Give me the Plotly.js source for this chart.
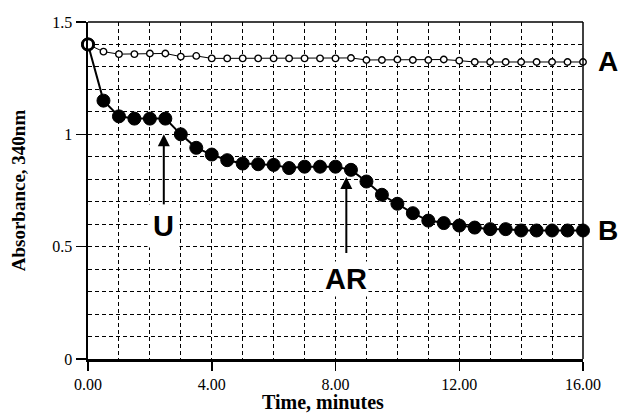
<!DOCTYPE html>
<html><head><meta charset="utf-8">
<script src="https://cdn.plot.ly/plotly-3.0.1.min.js"></script>
<style>html,body{margin:0;padding:0;background:#fff}</style>
</head><body>
<div id="chart" style="width:619px;height:418px"></div>
<script>
// ---- data ----
const timeMin = [0,0.5,1,1.5,2,2.5,3,3.5,4,4.5,5,5.5,6,6.5,7,7.5,8,8.5,9,9.5,10,10.5,11,11.5,12,12.5,13,13.5,14,14.5,15,15.5,16];
const seriesA = [1.40,1.368,1.357,1.357,1.36,1.36,1.346,1.349,1.338,1.338,1.338,1.338,1.338,1.338,1.338,1.338,1.338,1.34,1.331,1.331,1.333,1.331,1.331,1.333,1.328,1.322,1.322,1.322,1.322,1.322,1.322,1.322,1.322];
const seriesB = [1.40,1.15,1.08,1.07,1.07,1.07,1.00,0.94,0.91,0.885,0.87,0.867,0.864,0.85,0.856,0.856,0.856,0.842,0.79,0.731,0.691,0.649,0.616,0.605,0.594,0.585,0.578,0.578,0.572,0.572,0.572,0.572,0.572];
const xTickVals = [0,4,8,12,16];
const xTickText = ['0.00','4.00','8.00','12.00','16.00'];
const yTickVals = [0,0.5,1,1.5];
const yTickText = ['0','0.5','1','1.5'];
const seriesLabels = ['A','B'];
const arrowLabels = ['U','AR'];
const arrowTimes = [2.45, 8.35];
const arrowTips = [1.0, 0.81];
const arrowTails = [0.68, 0.465];
const arrowLabelY = [0.594, 0.358];
const xTitle = 'Time, minutes';
const yTitle = 'Absorbance, 340nm';

// ---- styling ----
const gridDash = '4px,3px';
const first = (a, b) => timeMin.map((t, i) => i === 0 ? a : b);

const traceB = {
  x: timeMin, y: seriesB, type: 'scatter', mode: 'lines+markers', cliponaxis: false,
  line: {color: '#000000', width: 2},
  marker: {symbol: 'circle', size: 13, color: '#000000', opacity: 1,
           line: {color: '#000000', width: 1}},
  hoverinfo: 'skip'
};
const traceA = {
  x: timeMin, y: seriesA, type: 'scatter', mode: 'lines+markers', cliponaxis: false,
  line: {color: '#000000', width: 1},
  marker: {symbol: 'circle', size: first(11, 6.5), color: '#ffffff', opacity: 1,
           line: {color: '#000000', width: first(2.8, 1.4)}},
  hoverinfo: 'skip'
};

const serif = 'Liberation Serif, Times New Roman, serif';
const sans = 'Liberation Sans, Arial, sans-serif';

const annotations = [];
arrowLabels.forEach((lab, i) => {
  annotations.push({
    x: arrowTimes[i], y: arrowTips[i], ax: arrowTimes[i], ay: arrowTails[i],
    xref: 'x', yref: 'y', axref: 'x', ayref: 'y', text: '',
    showarrow: true, arrowhead: 2, arrowsize: 1.2, arrowwidth: 2, arrowcolor: 'black'
  });
  annotations.push({
    x: arrowTimes[i], y: arrowLabelY[i], xref: 'x', yref: 'y', text: '<b>' + lab + '</b>',
    showarrow: false, bgcolor: 'white', borderpad: lab === 'U' ? 5 : 1,
    font: {family: sans, size: 29, color: 'black'}
  });
});
[seriesA, seriesB].forEach((s, i) => {
  annotations.push({
    x: 1.05, xref: 'paper', y: s[s.length - 1], yref: 'y', text: '<b>' + seriesLabels[i] + '</b>',
    showarrow: false, xanchor: 'center',
    font: {family: sans, size: 28, color: 'black'}
  });
});
annotations.push({
  x: 0.475, xref: 'paper', y: -0.128, yref: 'paper', xanchor: 'center', yanchor: 'middle',
  text: '<b>' + xTitle + '</b>', showarrow: false,
  font: {family: serif, size: 20, color: 'black'}
});

const layout = {
  width: 619, height: 418,
  margin: {l: 88, r: 36, t: 22, b: 59},
  paper_bgcolor: 'white', plot_bgcolor: 'white',
  showlegend: false,
  xaxis: {
    range: [0, 16], tickvals: xTickVals, ticktext: xTickText,
    ticks: 'outside', ticklen: 9, tickwidth: 1.5, tickcolor: 'black',
    showline: true, linewidth: 2.5, linecolor: 'black', zeroline: false,
    showgrid: true, gridcolor: 'black', gridwidth: 1, griddash: gridDash,
    minor: {dtick: 1, tick0: 0, showgrid: true, gridcolor: 'black', gridwidth: 1, griddash: gridDash},
    tickfont: {family: serif, size: 16, color: 'black'}
  },
  yaxis: {
    range: [0, 1.5], tickvals: yTickVals, ticktext: yTickText,
    ticks: 'outside', ticklen: 10, tickwidth: 1.5, tickcolor: 'black',
    showline: true, linewidth: 2.5, linecolor: 'black', zeroline: false,
    showgrid: true, gridcolor: 'black', gridwidth: 1, griddash: gridDash,
    minor: {dtick: 0.1, tick0: 0, showgrid: true, gridcolor: 'black', gridwidth: 1, griddash: gridDash},
    tickfont: {family: serif, size: 16, color: 'black'},
    title: {text: '<b>' + yTitle + '</b>', font: {family: serif, size: 19, color: 'black'}, standoff: 22}
  },
  shapes: [
    {type: 'line', xref: 'paper', yref: 'paper', x0: 0, x1: 1, y0: 1, y1: 1, line: {color: 'black', width: 1.5}},
    {type: 'line', xref: 'paper', yref: 'paper', x0: 1, x1: 1, y0: 0, y1: 1, line: {color: 'black', width: 1.5}}
  ],
  annotations: annotations
};

Plotly.newPlot('chart', [traceB, traceA], layout, {displayModeBar: false, staticPlot: true});
</script>
</body></html>
